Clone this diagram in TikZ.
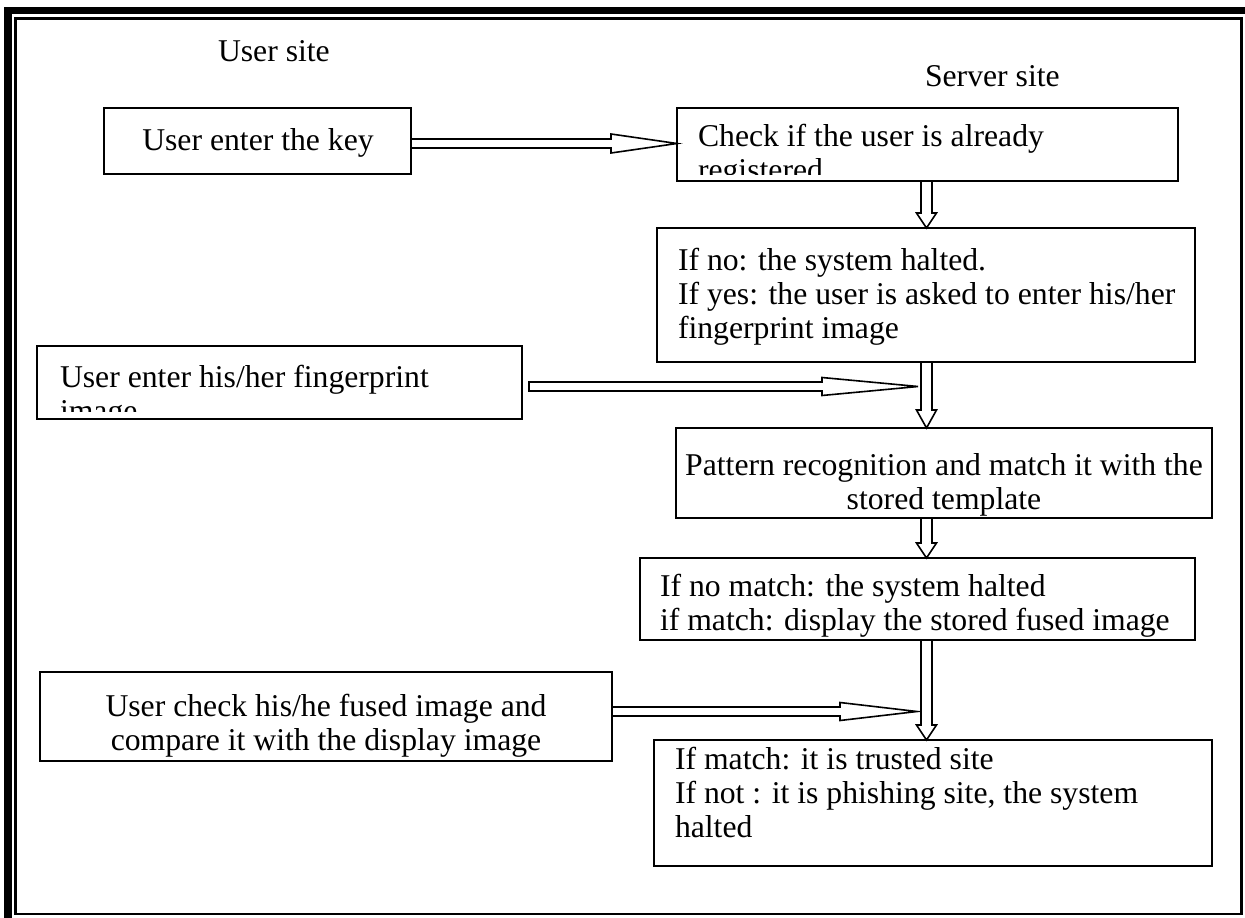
\documentclass[tikz,border=0pt]{standalone}
\usepackage{fontspec}
\setmainfont{Liberation Serif}
\usetikzlibrary{calc}
\newcommand\harrowdraw[4]{% from, to, head length, head half width
  \draw[blk] let \p1=(#1), \p2=(#2) in
    (\x1,\y1+4.5pt) -- (\x2-#3,\y1+4.5pt) -- (\x2-#3,\y1+#4) -- (\x2,\y1)
    -- (\x2-#3,\y1-#4) -- (\x2-#3,\y1-4.5pt) -- (\x1,\y1-4.5pt) -- cycle;}
\newcommand\varrowdraw[4]{% from (top), to (bottom), head length, head half width
  \draw[blk] let \p1=(#1), \p2=(#2) in
    (\x1-5.5pt,\y1) -- (\x1-5.5pt,\y2+#3) -- (\x1-#4,\y2+#3) -- (\x1,\y2)
    -- (\x1+#4,\y2+#3) -- (\x1+5.5pt,\y2+#3) -- (\x1+5.5pt,\y1) -- cycle;}
\begin{document}
\begin{tikzpicture}[x=1pt,y=-1pt,
  box/.style={draw, line width=2pt, inner sep=0pt, outer sep=0pt, anchor=north west},
  blk/.style={draw, line width=1.6pt, fill=white, line join=miter},
  txt/.style={inner sep=0pt, outer sep=0pt, font=\fontsize{31.7}{34}\selectfont}]
\useasboundingbox (0,0) rectangle (1245,918);
% page frame
\fill[black] (4,7) rectangle (1245,14);
\fill[black] (4,7) rectangle (12,918);
\draw[line width=2.5pt] (15.7,18.3) rectangle (1241.3,914);
% headings
\node[txt, anchor=base west] (usite) at (218,61) {User site};
\node[txt, anchor=base west] (ssite) at (925,86) {Server site};
% boxes
\node[box, minimum width=307pt, minimum height=66pt] (b1) at (104,108) {};
\node[box, minimum width=501pt, minimum height=73pt] (b2) at (677,108) {};
\node[box, minimum width=538pt, minimum height=134pt] (b3) at (657,228) {};
\node[box, minimum width=485pt, minimum height=73pt] (b4) at (37,346) {};
\node[box, minimum width=536pt, minimum height=90pt] (b5) at (676,428) {};
\node[box, minimum width=555pt, minimum height=82pt] (b6) at (640,558) {};
\node[box, minimum width=572pt, minimum height=89pt] (b7) at (40,672) {};
\node[box, minimum width=558pt, minimum height=126pt] (b8) at (654,740) {};
% texts
\node[txt, anchor=base] (t1) at (258,150) {User enter the key};
\begin{scope}
  \clip (680,110) rectangle (1176,174);
  \node[txt, anchor=base west] (t2a) at (698,146) {Check if the user is already};
  \node[txt, anchor=base west] (t2b) at (698,180) {registered};
\end{scope}
\node[txt, anchor=base west] (t3a) at (678,270) {If no: the system halted.};
\node[txt, anchor=base west] (t3b) at (678,304) {If yes: the user is asked to enter his/her};
\node[txt, anchor=base west] (t3c) at (678,338) {fingerprint image};
\begin{scope}
  \clip (39,348) rectangle (520,411);
  \node[txt, anchor=base west] (t4a) at (60,387) {User enter his/her fingerprint};
  \node[txt, anchor=base west] (t4b) at (60,421) {image};
\end{scope}
\node[txt, anchor=base] (t5a) at (944,475) {Pattern recognition and match it with the};
\node[txt, anchor=base] (t5b) at (944,509) {stored template};
\node[txt, anchor=base west] (t6a) at (660,596) {If no match: the system halted};
\node[txt, anchor=base west] (t6b) at (660,630) {if match: display the stored fused image};
\node[txt, anchor=base] (t7a) at (326,716) {User check his/he fused image and};
\node[txt, anchor=base] (t7b) at (326,750) {compare it with the display image};
\node[txt, anchor=base west] (t8a) at (675,769) {If match: it is trusted site};
\node[txt, anchor=base west] (t8b) at (675,803) {If not : it is phishing site, the system};
\node[txt, anchor=base west] (t8c) at (675,837) {halted};
% connector helper coordinates
\coordinate (xd) at (926.5,0);
\coordinate (ya1) at (0,143.5);
\coordinate (a2s) at (529,386.5);
\coordinate (a2e) at (918,386.5);
\coordinate (a4e) at (917,711.5);
% horizontal block arrows
\harrowdraw{b1.east |- ya1}{b2.west |- ya1}{66pt}{9.5pt}
\harrowdraw{a2s}{a2e}{96pt}{9pt}
\harrowdraw{b7.east |- a4e}{a4e}{77pt}{9pt}
% vertical block arrows
\varrowdraw{b2.south -| xd}{b3.north -| xd}{15pt}{10pt}
\varrowdraw{b3.south -| xd}{b5.north -| xd}{18pt}{10pt}
\varrowdraw{b5.south -| xd}{b6.north -| xd}{15pt}{10pt}
\varrowdraw{b6.south -| xd}{b8.north -| xd}{15pt}{10pt}
\end{tikzpicture}
\end{document}
